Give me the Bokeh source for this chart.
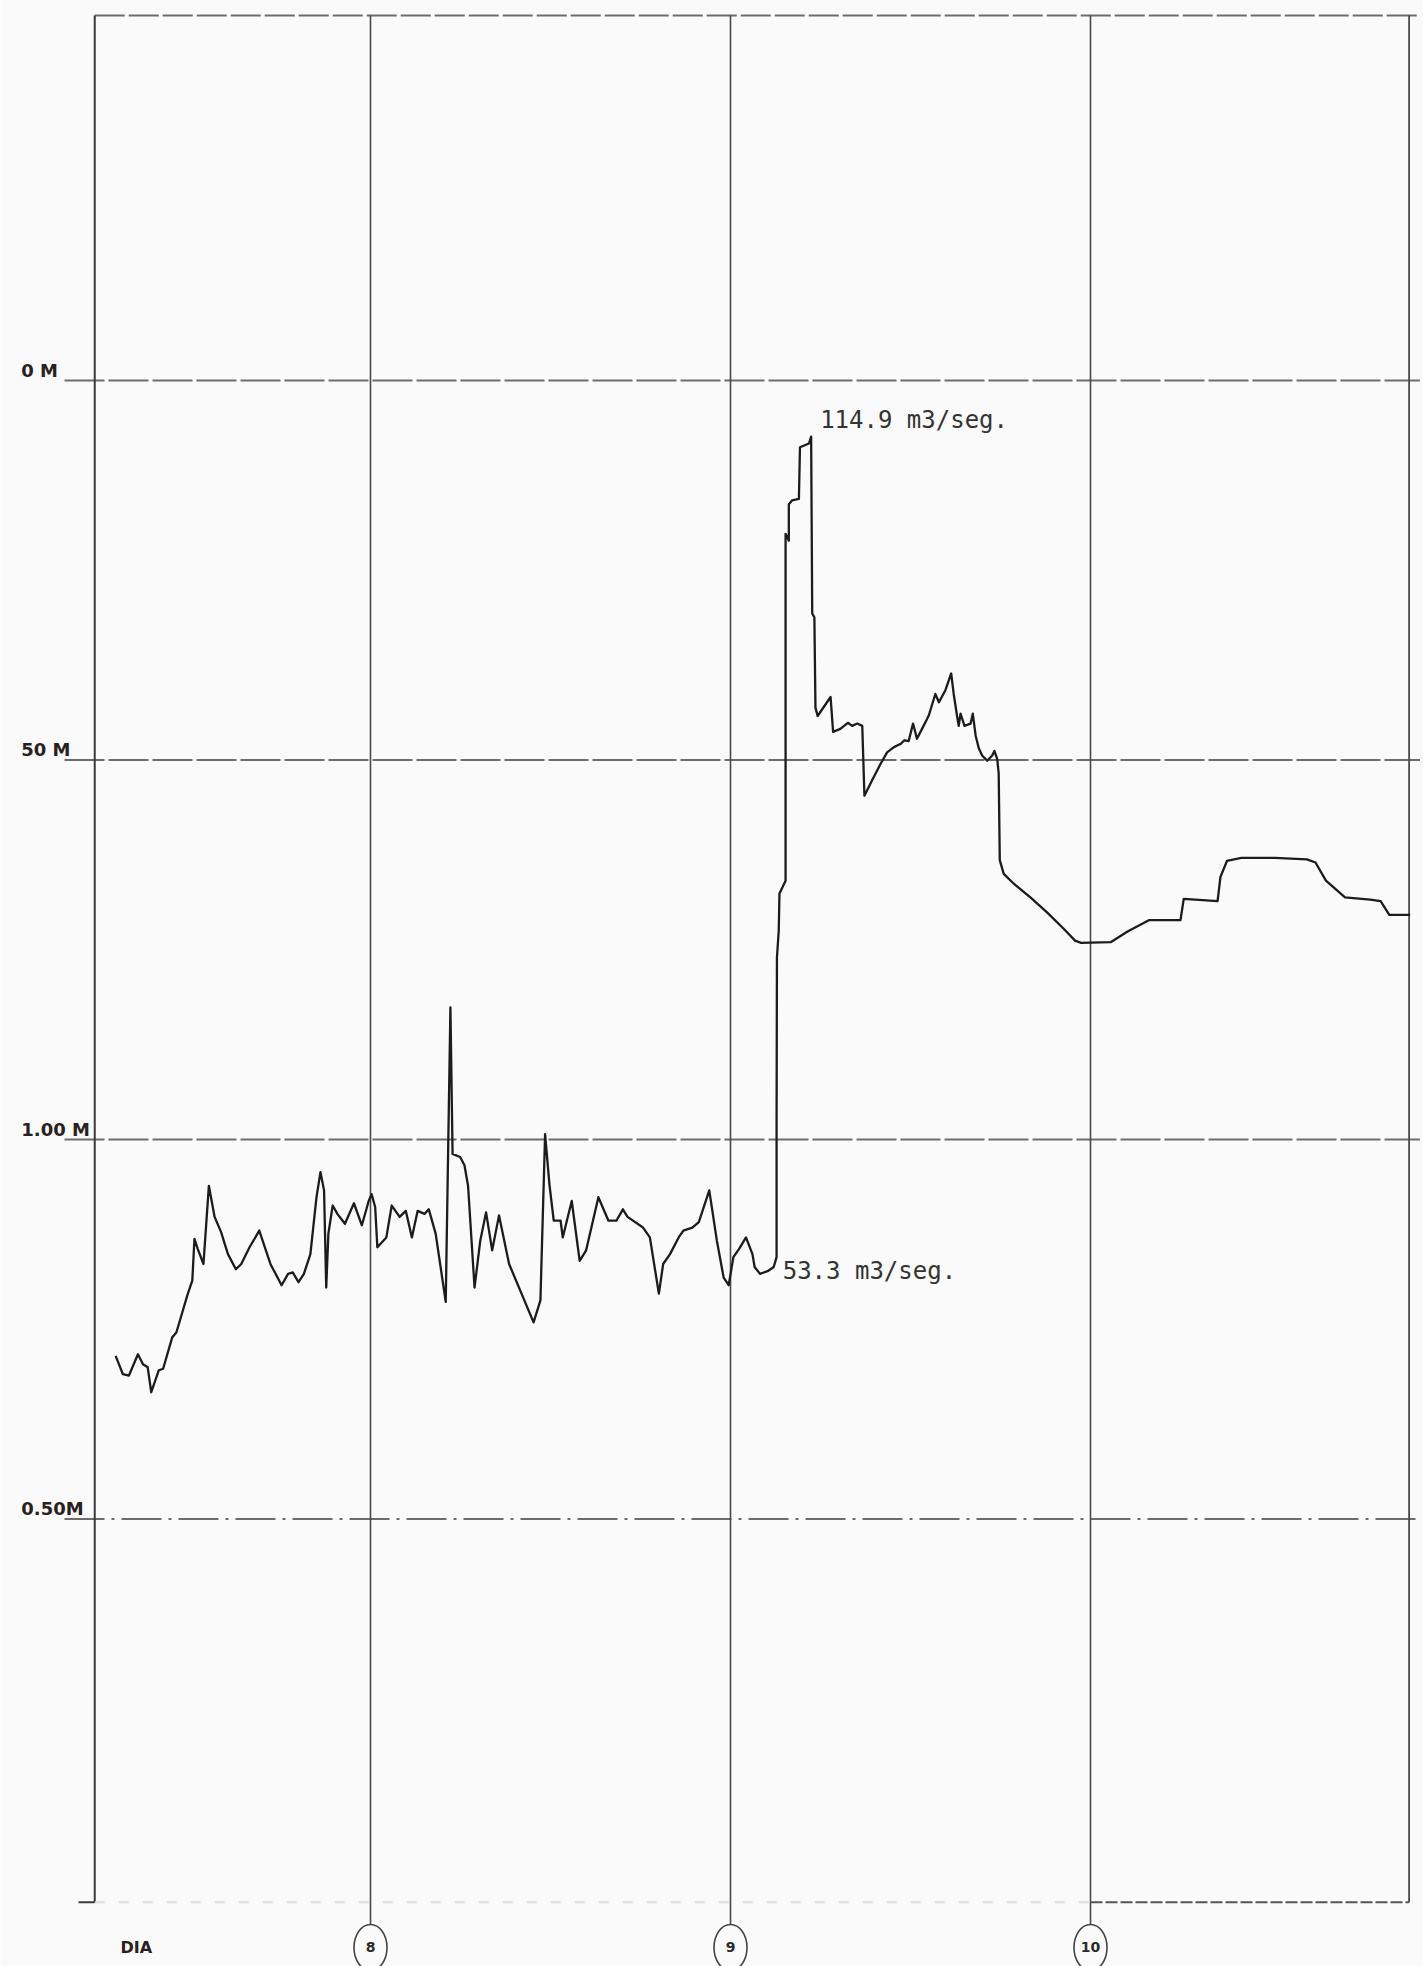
from bokeh.plotting import figure
from bokeh.embed import file_html
from bokeh.resources import INLINE
from bokeh.core.properties import value
from bokeh.models import Label, Range1d

# ---------------- data (day of month, gauge level in m) ----------------
days = [
    7.292, 7.312, 7.329, 7.354, 7.368, 7.381, 7.391, 7.412, 7.424, 7.449,
    7.461, 7.492, 7.505, 7.511, 7.520, 7.536, 7.551, 7.567, 7.585, 7.604,
    7.626, 7.641, 7.664, 7.691, 7.722, 7.753, 7.771, 7.784, 7.800, 7.815,
    7.833, 7.850, 7.861, 7.871, 7.877, 7.883, 7.895, 7.908, 7.929, 7.954,
    7.976, 7.995, 8.003, 8.013, 8.019, 8.044, 8.059, 8.081, 8.098, 8.115,
    8.131, 8.150, 8.162, 8.181, 8.209, 8.222, 8.228, 8.249, 8.261, 8.271,
    8.289, 8.305, 8.321, 8.338, 8.357, 8.385, 8.453, 8.472, 8.485, 8.497,
    8.509, 8.528, 8.534, 8.559, 8.581, 8.599, 8.633, 8.661, 8.683, 8.701,
    8.714, 8.757, 8.776, 8.801, 8.813, 8.832, 8.856, 8.869, 8.894, 8.912,
    8.941, 8.962, 8.981, 8.995, 9.008, 9.024, 9.043, 9.061, 9.067, 9.082,
    9.105, 9.120, 9.128, 9.128, 9.129, 9.134, 9.136, 9.153, 9.153, 9.162,
    9.162, 9.171, 9.190, 9.193, 9.218, 9.224, 9.227, 9.233, 9.236, 9.242,
    9.278, 9.285, 9.305, 9.326, 9.338, 9.352, 9.366, 9.372, 9.393, 9.417,
    9.435, 9.454, 9.472, 9.483, 9.495, 9.507, 9.518, 9.532, 9.546, 9.551,
    9.569, 9.579, 9.597, 9.613, 9.620, 9.630, 9.634, 9.639, 9.650, 9.667,
    9.673, 9.681, 9.690, 9.699, 9.713, 9.727, 9.733, 9.741, 9.745, 9.748,
    9.759, 9.787, 9.833, 9.880, 9.927, 9.957, 9.974, 10.056, 10.103, 10.162,
    10.250, 10.259, 10.353, 10.361, 10.379, 10.419, 10.513, 10.601, 10.625, 10.654,
    10.707, 10.777, 10.806, 10.830, 10.888,
]
levels = [
    0.715, 0.691, 0.689, 0.717, 0.704, 0.700, 0.667, 0.696, 0.698, 0.739,
    0.746, 0.796, 0.814, 0.869, 0.856, 0.836, 0.939, 0.898, 0.878, 0.849,
    0.829, 0.836, 0.858, 0.880, 0.836, 0.808, 0.823, 0.825, 0.812, 0.823,
    0.849, 0.924, 0.957, 0.933, 0.805, 0.876, 0.913, 0.902, 0.889, 0.916,
    0.887, 0.919, 0.928, 0.911, 0.858, 0.871, 0.913, 0.898, 0.906, 0.871,
    0.906, 0.902, 0.908, 0.876, 0.786, 1.174, 0.981, 0.977, 0.966, 0.939,
    0.805, 0.867, 0.904, 0.854, 0.900, 0.836, 0.759, 0.788, 1.007, 0.941,
    0.893, 0.893, 0.871, 0.919, 0.840, 0.854, 0.924, 0.893, 0.893, 0.908,
    0.898, 0.884, 0.871, 0.797, 0.836, 0.849, 0.871, 0.880, 0.884, 0.891,
    0.933, 0.867, 0.818, 0.808, 0.845, 0.856, 0.871, 0.849, 0.832, 0.823,
    0.827, 0.832, 0.845, 1.025, 1.240, 1.275, 1.324, 1.341, 1.798, 1.789,
    1.837, 1.842, 1.844, 1.912, 1.917, 1.926, 1.693, 1.688, 1.569, 1.558,
    1.583, 1.537, 1.541, 1.549, 1.545, 1.548, 1.545, 1.453, 1.473, 1.495,
    1.510, 1.517, 1.521, 1.526, 1.525, 1.548, 1.528, 1.541, 1.554, 1.559,
    1.587, 1.576, 1.592, 1.614, 1.587, 1.556, 1.545, 1.561, 1.545, 1.548,
    1.561, 1.532, 1.515, 1.506, 1.499, 1.506, 1.512, 1.501, 1.482, 1.368,
    1.350, 1.337, 1.319, 1.299, 1.277, 1.262, 1.259, 1.260, 1.274, 1.289,
    1.289, 1.317, 1.314, 1.346, 1.367, 1.371, 1.371, 1.369, 1.365, 1.341,
    1.319, 1.316, 1.314, 1.296, 1.296,
]

level_ticks = [2.0, 1.5, 1.0, 0.5]
level_labels = ["0 M", "50 M", "1.00 M", "0.50M"]
day_ticks = [8, 9, 10]
day_labels = ["8", "9", "10"]
day_title = "DIA"

flow_days = [9.224, 9.120]
flow_levels = [1.926, 0.832]
flow_texts = ["114.9 m3/seg.", "53.3 m3/seg."]

# ---------------- layout constants ----------------
W, H = 1423, 1966
X0 = 6.97222
X1 = X0 + W / 360.0
Y1 = 2.50066
Y0 = Y1 - H / 759.0
LEFT, RIGHT = 7.234, 10.885
TOP, BOTTOM = 2.481, -0.005
GRID_START, GRID_END = 7.150, 10.915
LABEL_X = 7.030
ROW = -0.0645
CIRCLE_TOP = -0.034

BG = "#fafafa"
INK = "#1c1c1c"
LINE = "#4a4a4a"
GRID = "#6c6c6c"

p = figure(width=W, height=H, x_range=Range1d(X0, X1), y_range=Range1d(Y0, Y1),
           output_backend="svg", toolbar_location=None, min_border=0,
           x_axis_location=None, y_axis_location=None,
           background_fill_color=BG, border_fill_color=BG, outline_line_color=None)
p.grid.visible = False

# top frame line
p.segment(x0=[LEFT], y0=[TOP], x1=[GRID_END], y1=[TOP], line_color=GRID, line_width=2, line_dash="30 4")

# horizontal level lines
p.segment(x0=[GRID_START] * 3, y0=level_ticks[:3], x1=[GRID_END] * 3, y1=level_ticks[:3],
          line_color=GRID, line_width=2, line_dash="40 4")
p.segment(x0=[GRID_START], y0=level_ticks[3:], x1=[GRID_END], y1=level_ticks[3:],
          line_color=GRID, line_width=2, line_dash="40 7 3 7")

# vertical day lines and frame
p.segment(x0=day_ticks, y0=[TOP] * 3, x1=day_ticks, y1=[CIRCLE_TOP] * 3,
          line_color=LINE, line_width=1.6)
p.segment(x0=[LEFT], y0=[TOP], x1=[LEFT], y1=[BOTTOM], line_color="#3a3a3a", line_width=2)
p.segment(x0=[RIGHT], y0=[TOP], x1=[RIGHT], y1=[BOTTOM], line_color=LINE, line_width=1.8)

# bottom line
p.segment(x0=[LEFT], y0=[BOTTOM], x1=[10.0], y1=[BOTTOM], line_color="#dcdcdc", line_width=2, line_dash="10 14")
p.segment(x0=[10.0], y0=[BOTTOM], x1=[RIGHT], y1=[BOTTOM], line_color="#555555", line_width=2, line_dash="12 3")
p.segment(x0=[LEFT - 0.045], y0=[BOTTOM], x1=[LEFT], y1=[BOTTOM], line_color="#3a3a3a", line_width=2)

# hydrograph
p.line(days, levels, line_color=INK, line_width=2.3, line_join="round")

# level labels
p.text(x=[LABEL_X] * 4, y=level_ticks, text=level_labels, text_align="left",
       text_baseline="bottom", text_font=value("DejaVu Sans"), text_font_style="bold",
       text_font_size="18px", text_color="#2a2020")

# day circles
p.ellipse(x=day_ticks, y=[ROW] * 3, width=33, height=46, width_units="screen",
          height_units="screen", fill_color=BG, line_color="#444444", line_width=1.6)
p.text(x=day_ticks, y=[ROW] * 3, text=day_labels, text_align="center", text_baseline="middle",
       text_font=value("DejaVu Sans"), text_font_style="bold", text_font_size="14px",
       text_color="#2a2a2a")
p.text(x=[7.3056], y=[ROW], text=[day_title], text_align="left", text_baseline="middle",
       text_font=value("DejaVu Sans"), text_font_style="bold", text_font_size="16px",
       text_color="#2a2020")

# discharge annotations
offsets = [(9, 17), (9, -4)]
for d, lv, t, (dx, dy) in zip(flow_days, flow_levels, flow_texts, offsets):
    p.add_layout(Label(x=d, y=lv, text=t, x_offset=dx, y_offset=dy,
                       text_font="DejaVu Sans Mono", text_font_size="24px",
                       text_color="#333333", text_baseline="alphabetic"))

open("out.html", "w").write(file_html(p, INLINE))
